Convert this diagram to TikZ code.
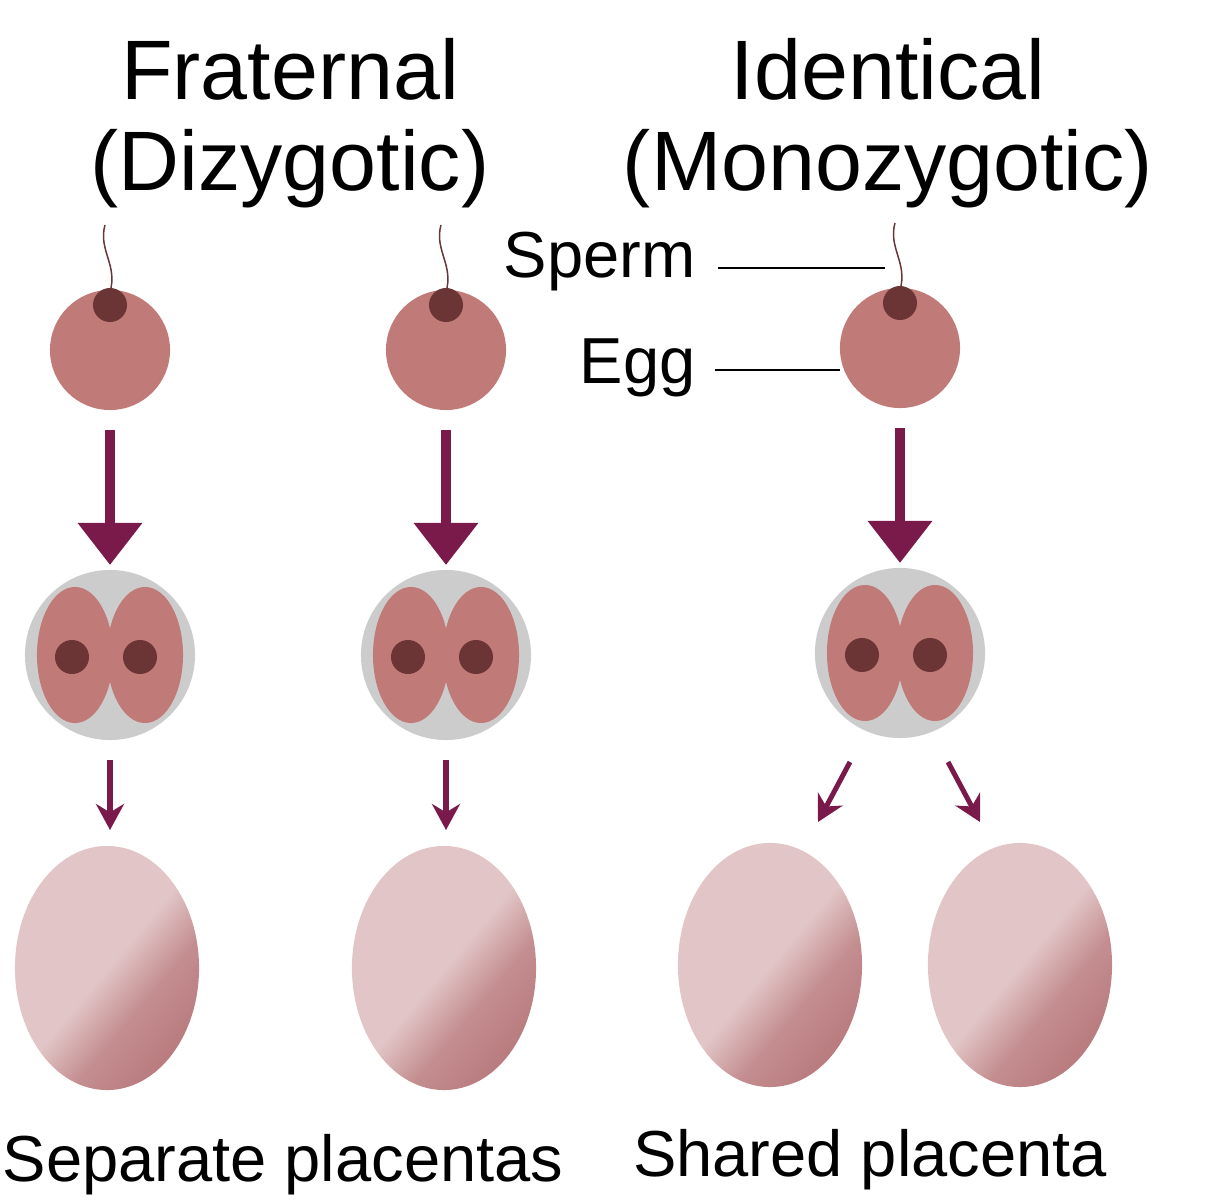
\documentclass[tikz,border=0pt]{standalone}
\usepackage{fontspec}
\setmainfont{Liberation Sans}
\usetikzlibrary{arrows.meta,shapes.geometric}
\definecolor{eggc}{HTML}{C07A78}
\definecolor{nuc}{HTML}{6B3535}
\definecolor{arr}{HTML}{7A1A4A}
\definecolor{grayc}{HTML}{CCCCCC}
\definecolor{ovl}{HTML}{E2C6C7}
\definecolor{ovm}{HTML}{C48E90}
\definecolor{ovd}{HTML}{A2565C}
\pgfdeclarehorizontalshading{ovsh}{100bp}{color(0bp)=(ovl); color(50bp)=(ovl); color(62bp)=(ovm); color(100bp)=(ovd)}
\tikzset{
  egg/.style={circle, fill=eggc, minimum size=1.2cm, inner sep=0},
  nucleus/.style={circle, fill=nuc, minimum size=0.34cm, inner sep=0},
  bigarrow/.style={arr, line width=0.1cm, -{Triangle[length=0.42cm, width=0.62cm]}},
  smallarrow/.style={arr, line width=0.05cm, -{Stealth[length=0.26cm, width=0.28cm]}},
  oval/.style={ellipse, shading=ovsh, shading angle=-40, minimum width=1.84cm, minimum height=2.44cm, inner sep=0},
  cell/.style={ellipse, fill=eggc, minimum width=0.76cm, minimum height=1.36cm, inner sep=0},
  title/.style={font=\fontsize{24pt}{26pt}\selectfont, align=center},
  lbl/.style={font=\fontsize{18.5pt}{20pt}\selectfont},
}
\begin{document}
\begin{tikzpicture}[x=0.01cm,y=-0.01cm]
\useasboundingbox (0,0) rectangle (1211,1200);
\node[title] (t1) at (290,123) {Fraternal\\(Dizygotic)};
\node[title] (t2) at (888,123) {Identical\\(Monozygotic)};
\foreach \n/\x/\y in {a/110/350,b/446/350,c/900/348}{
  \draw[nuc, line width=0.015cm] (\x,\y-58) .. controls (\x+8,\y-85) and (\x-12,\y-100) .. (\x-5,\y-125);
  \node[egg] (egg\n) at (\x,\y) {};
  \node[nucleus] (nu\n) at (\x,\y-45) {};
  \coordinate (as\n) at (\x,\y+80);
  \coordinate (ae\n) at (\x,\y+215);
  \draw[bigarrow] (as\n) -- (ae\n);
  \node[circle, fill=grayc, minimum size=1.7cm, inner sep=0] (two\n) at (\x,\y+305) {};
  \node[cell] (cl\n) at (\x-35,\y+305) {};
  \node[cell] (cr\n) at (\x+35,\y+305) {};
  \node[nucleus] at (\x-38,\y+307) {};
  \node[nucleus] at (\x+30,\y+307) {};
}
\coordinate (sa1) at (110,760); \coordinate (sa2) at (110,830);
\coordinate (sb1) at (446,760); \coordinate (sb2) at (446,830);
\coordinate (sc1) at (850,762); \coordinate (sc2) at (818,822);
\coordinate (sd1) at (948,762); \coordinate (sd2) at (980,822);
\draw[smallarrow] (sa1) -- (sa2);
\draw[smallarrow] (sb1) -- (sb2);
\draw[smallarrow] (sc1) -- (sc2);
\draw[smallarrow] (sd1) -- (sd2);
\node[oval] (o1) at (107,968) {};
\node[oval] (o2) at (444,968) {};
\node[oval] (o3) at (770,965) {};
\node[oval] (o4) at (1020,965) {};
\node[lbl, anchor=east] (sp) at (708,262) {Sperm};
\node[lbl, anchor=east] (eg) at (708,368) {Egg};
\coordinate (spe) at (885,268);
\coordinate (ege) at (840,370);
\draw[line width=0.02cm] (sp.east |- spe) ++(10,0) -- (spe);
\draw[line width=0.02cm] (eg.east |- ege) ++(7,0) -- (ege);
\node[lbl] (b1) at (283,1165) {Separate placentas};
\node[lbl] (b2) at (870,1160) {Shared placenta};
\end{tikzpicture}
\end{document}
